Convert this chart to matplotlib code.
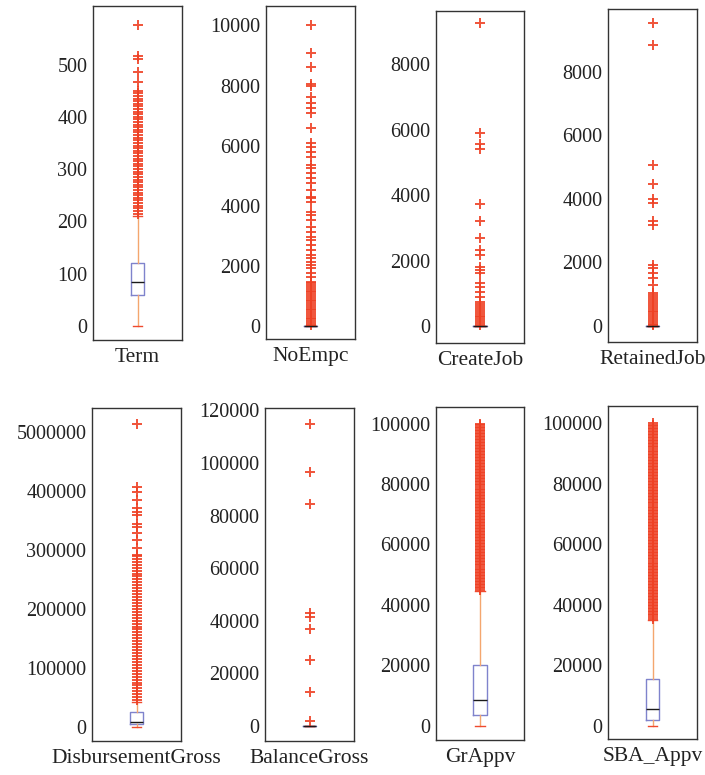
import numpy as np
import matplotlib.pyplot as plt

plt.rcParams['font.family'] = ['Liberation Serif', 'DejaVu Serif']

# %% Data
names = ['Term', 'NoEmpc', 'CreateJob', 'RetainedJob',
         'DisbursementGross', 'BalanceGross', 'GrAppv', 'SBA_Appv']

q1 = [60, 2, 0, 0, 4500, 0, 3500, 2000]
med = [84, 4, 0, 1, 8500, 0, 8500, 5600]
q3 = [120, 10, 1, 4, 25000, 0, 20000, 15500]
whislo = [0, 0, 0, 0, 0, 0, 0, 0]
whishi = [210, 22, 2, 10, 42000, 0, 44500, 35000]

term_fliers = [575, 517, 510, 485, 466,
               450, 445, 440, 435, 430, 425, 420, 415, 410, 405, 400, 395,
               390, 385, 380, 375, 370, 365, 360, 355, 350, 345, 340, 335,
               330, 325, 320, 315, 310, 305, 300, 295, 290, 285, 280, 275,
               270, 265, 260, 255, 250, 245, 240, 235, 230, 225, 220, 215]
noempc_fliers = [9999, 9090, 8605, 8050, 8000, 7607, 7407, 7241, 7075, 6575,
                 6077, 5966, 5800, 5633, 5356, 5245, 5078, 4911, 4746, 4524,
                 4302, 4247, 4136, 3803, 3693, 3526, 3304, 3138, 2972, 2861,
                 2695, 2528, 2362, 2251, 2140, 2029, 1918, 1752, 1641, 1475,
                 1420, 1360, 1300, 1240, 1180, 1120, 1060, 1000, 940, 880,
                 820, 760, 700, 640, 580, 520, 460, 400, 340, 280, 220, 160,
                 100, 50]
createjob_fliers = [9253, 5890, 5554, 5401, 3720, 3220, 2680, 2323, 2171,
                    1814, 1712, 1610, 1304, 1202, 1050, 897, 744,
                    680, 620, 560, 500, 440, 380, 320, 260, 200, 140, 80, 30]
retainedjob_fliers = [9521, 8839, 5064, 4467, 3985, 3880, 3313, 3177, 1919,
                      1814, 1657, 1500, 1290, 1025, 970, 910, 850, 790, 730,
                      670, 610, 550, 490, 430, 370, 310, 250, 190, 130, 70, 30]
# values below in thousands
disbursement_fliers_k = [514, 406.5, 399, 384.9, 370.8, 365.1, 359.4,
                         344.1, 339.6, 328.3, 317, 302.8, 291.5,
                         290, 285, 280, 275, 270, 265, 260, 255, 250, 245,
                         240, 235, 230, 225, 220, 215, 210, 205, 200, 195,
                         190, 185, 180, 175, 170, 165, 160, 155, 150, 145,
                         140, 135, 130, 125, 120, 115, 110, 105, 100, 95,
                         90, 85, 80, 75, 70, 65, 60, 55, 50, 45]
balance_fliers = [115000, 96400, 84400, 43000, 41300, 36700, 25100, 12800, 2000]
grappv_fliers_k = [100, 99.5, 99, 98.5, 98, 97.5, 97, 96.5, 96, 95.5,
                   95, 94.5, 94, 93.5, 93, 92.5, 92, 91.5, 91, 90.5,
                   90, 89.5, 89, 88.5, 88, 87.5, 87, 86.5, 86, 85.5,
                   85, 84.5, 84, 83.5, 83, 82.5, 82, 81.5, 81, 80.5,
                   80, 79.5, 79, 78.5, 78, 77.5, 77, 76.5, 76, 75.5,
                   75, 74.5, 74, 73.5, 73, 72.5, 72, 71.5, 71, 70.5,
                   70, 69.5, 69, 68.5, 68, 67.5, 67, 66.5, 66, 65.5,
                   65, 64.5, 64, 63.5, 63, 62.5, 62, 61.5, 61, 60.5,
                   60, 59.5, 59, 58.5, 58, 57.5, 57, 56.5, 56, 55.5,
                   55, 54.5, 54, 53.5, 53, 52.5, 52, 51.5, 51, 50.5,
                   50, 49.5, 49, 48.5, 48, 47.5, 47, 46.5, 46, 45.5, 45]
# SBA_Appv outliers cover the same upper range and run further down
sba_appv_fliers_k = grappv_fliers_k + [44.5, 44, 43.5, 43, 42.5, 42, 41.5,
                                       41, 40.5, 40, 39.5, 39, 38.5, 38,
                                       37.5, 37, 36.5, 36, 35.5]
fliers = [term_fliers, noempc_fliers, createjob_fliers, retainedjob_fliers,
          [v * 1000 for v in disbursement_fliers_k], balance_fliers,
          [v * 1000 for v in grappv_fliers_k],
          [v * 1000 for v in sba_appv_fliers_k]]

ytick_values = [
    [0, 100, 200, 300, 400, 500],
    [0, 2000, 4000, 6000, 8000, 10000],
    [0, 2000, 4000, 6000, 8000],
    [0, 2000, 4000, 6000, 8000],
    [0, 100000, 200000, 300000, 400000, 500000],
    [0, 20000, 40000, 60000, 80000, 100000, 120000],
    [0, 20000, 40000, 60000, 80000, 100000],
    [0, 20000, 40000, 60000, 80000, 100000],
]
# the original figure prints "5000000" at the 500000 tick
ytick_labels = [[str(v) for v in t] for t in ytick_values]
ytick_labels[4][-1] = '5000000'

# %% Layout (pixel boxes: left, top, right, bottom) and y ranges
W, H = 705, 775
axes_px = [(93, 6, 182, 340), (266, 6, 355, 339), (436, 11, 524, 343),
           (608, 9, 697, 342), (92, 408, 181, 741), (265, 408, 354, 741),
           (436, 407, 524, 740), (608, 406, 697, 739)]
ylims = [(-27, 612), (-430, 10645), (-520, 9630), (-500, 9970),
         (-24300, 541000), (-5700, 120900), (-4800, 105500), (-4300, 105700)]

box_color = '#7f83cc'
whisker_color = '#f4a66e'
cap_color = '#ef4a2e'
flier_color = '#ee4124'

fig = plt.figure(figsize=(W / 100, H / 100), dpi=100)

for i, name in enumerate(names):
    l, t, r, b = axes_px[i]
    ax = fig.add_axes([l / W, 1 - b / H, (r - l) / W, (b - t) / H])
    stats = [dict(med=med[i], q1=q1[i], q3=q3[i], whislo=whislo[i],
                  whishi=whishi[i], fliers=fliers[i])]
    ax.bxp(stats, positions=[1], widths=0.15, capwidths=0.105,
           boxprops=dict(color=box_color, linewidth=1.0),
           whiskerprops=dict(color=whisker_color, linewidth=1.0),
           capprops=dict(color=cap_color, linewidth=1.0),
           medianprops=dict(color='#1a1a1a', linewidth=1.0),
           flierprops=dict(marker='+', markeredgecolor=flier_color,
                           markersize=7.5, markeredgewidth=1.4, alpha=0.9))
    ax.set_xlim(0.5, 1.5)
    ax.set_ylim(*ylims[i])
    ax.set_yticks(ytick_values[i])
    ax.set_yticklabels(ytick_labels[i])
    ax.set_xticks([1])
    ax.set_xticklabels([name])
    ax.tick_params(axis='y', length=0, labelsize=14.5, pad=4, labelcolor='#222222')
    ax.tick_params(axis='x', length=0, labelsize=15.5, pad=6, labelcolor='#222222')
    for s in ax.spines.values():
        s.set_color('#333333')
        s.set_linewidth(1.0)

fig.savefig('out.png', dpi=100)
